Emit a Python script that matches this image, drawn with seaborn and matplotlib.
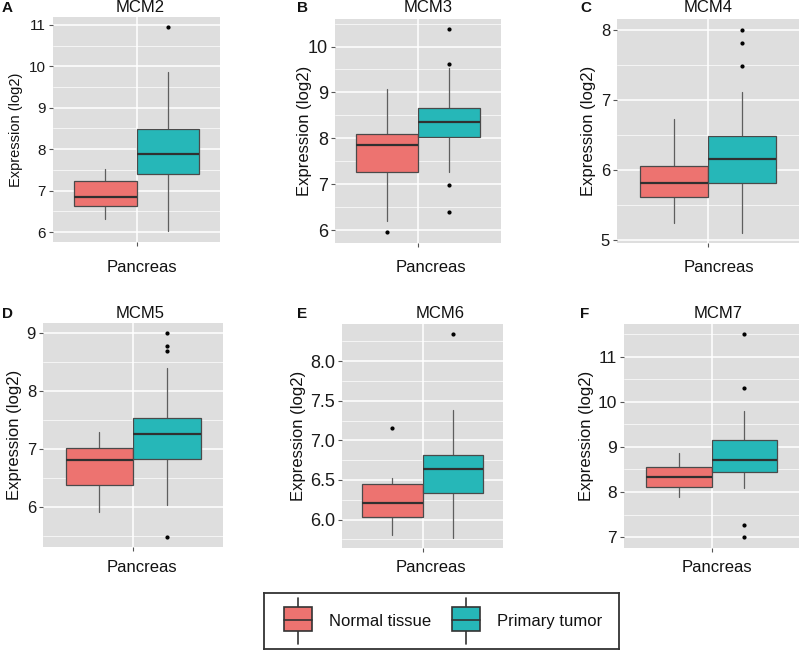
import matplotlib
matplotlib.use("Agg")
import matplotlib.pyplot as plt
from matplotlib.legend_handler import HandlerBase
from matplotlib.lines import Line2D
from matplotlib.patches import Rectangle, Patch
from matplotlib.ticker import MultipleLocator, FormatStrFormatter
import seaborn as sns

# ---- data ------------------------------------------------------------------
genes = ["MCM2", "MCM3", "MCM4", "MCM5", "MCM6", "MCM7"]
letters = ["A", "B", "C", "D", "E", "F"]
groups = ["Normal tissue", "Primary tumor"]
tissue = "Pancreas"

# five-number summaries: whisker low, q1, median, q3, whisker high
normal_stats = [
    [6.31, 6.63, 6.85, 7.23, 7.51],
    [6.20, 7.27, 7.86, 8.09, 9.07],
    [5.25, 5.61, 5.81, 6.06, 6.73],
    [5.92, 6.37, 6.81, 7.02, 7.29],
    [5.80, 6.03, 6.21, 6.45, 6.52],
    [7.89, 8.10, 8.34, 8.55, 8.87],
]
tumor_stats = [
    [6.02, 7.40, 7.89, 8.48, 9.87],
    [7.26, 8.02, 8.36, 8.66, 9.54],
    [5.10, 5.82, 6.16, 6.48, 7.11],
    [6.04, 6.83, 7.26, 7.53, 8.40],
    [5.77, 6.34, 6.64, 6.82, 7.38],
    [8.08, 8.44, 8.70, 9.15, 9.80],
]
normal_fliers = [[], [5.96], [], [], [7.16], []]
tumor_fliers = [
    [10.94],
    [10.38, 9.63, 6.99, 6.39],
    [8.00, 7.81, 7.48],
    [9.00, 8.78, 8.69, 5.48],
    [8.34],
    [11.50, 10.31, 7.27, 7.00],
]
y_limits = [(5.76, 11.19), (5.72, 10.60), (4.96, 8.15),
            (5.31, 9.17), (5.64, 8.47), (6.76, 11.72)]
y_steps = [1, 1, 1, 1, 0.5, 1]

# ---- layout (pixels in a 799x655 canvas) ------------------------------------
W, H = 799, 655
panel_px = [(53, 17, 220, 242), (335, 19, 501, 243), (617, 19, 799, 243),
            (43, 323, 223, 547), (342, 324, 503, 548), (624, 324, 799, 548)]
ylabel_x = [16, 305, 588, 15, 298, 587]
title_x = [140, 428, 708, 140, 440, 718]
letter_x = [2, 297, 580, 2, 297, 580]
row_title_y = [8, 8, 8, 314, 314, 314]
xlabel_x = [142, 431, 719, 142, 431, 717]
xlabel_y = [268, 268, 268, 568, 568, 568]
tick_fs = [11, 13, 12, 12, 13, 12.5]
ylab_fs = [10.5, 12, 12, 12, 12, 12]

sns.set_theme(style="darkgrid", rc={
    "axes.facecolor": "#DEDEDE",
    "grid.color": "white",
    "figure.facecolor": "white",
})
plt.rcParams["font.family"] = ["Liberation Sans", "DejaVu Sans"]

pal = ["#ED7370", "#26B7B8"]
EDGE = "#4a4a4a"
WHISK = "#5e5e5e"
MED = "#303030"


def fx(px):
    return px / W


def fy(py):
    return 1 - py / H


def make_stats(s, fl, label):
    lo, q1, med, q3, hi = s
    return {"whislo": lo, "q1": q1, "med": med, "q3": q3, "whishi": hi,
            "fliers": fl, "label": label}


fig = plt.figure(figsize=(W / 100, H / 100), dpi=100)

for i, gene in enumerate(genes):
    l, t, r, b = panel_px[i]
    ax = fig.add_axes([fx(l), fy(b), (r - l) / W, (b - t) / H])
    stats = [make_stats(normal_stats[i], normal_fliers[i], groups[0]),
             make_stats(tumor_stats[i], tumor_fliers[i], groups[1])]
    art = ax.bxp(stats, positions=[0.775, 1.225], widths=0.45,
                 patch_artist=True, showcaps=False, manage_ticks=False,
                 boxprops=dict(edgecolor=EDGE, linewidth=0.9),
                 whiskerprops=dict(color=WHISK, linewidth=0.9),
                 medianprops=dict(color=MED, linewidth=1.6),
                 flierprops=dict(marker="o", markersize=2.0, markerfacecolor="black",
                                 markeredgecolor="black", linestyle="none"))
    for patch, c in zip(art["boxes"], pal):
        patch.set_facecolor(c)
    for w in art["whiskers"]:
        w.set_zorder(1.5)

    ax.set_xlim(0.4, 1.6)
    ax.set_ylim(*y_limits[i])
    ax.set_xticks([1])
    ax.set_xticklabels([""])
    step = y_steps[i]
    ax.yaxis.set_major_locator(MultipleLocator(step))
    ax.yaxis.set_minor_locator(MultipleLocator(step / 2))
    if step < 1:
        ax.yaxis.set_major_formatter(FormatStrFormatter("%.1f"))
    ax.grid(which="major", axis="both", color="white", linewidth=1.1)
    ax.grid(which="minor", axis="y", color="white", linewidth=0.5)
    ax.grid(which="minor", axis="x", visible=False)
    ax.tick_params(axis="both", which="major", length=3, width=0.8,
                   color="#555555", pad=2, labelsize=tick_fs[i], labelcolor="#1a1a1a",
                   left=True, bottom=True)
    ax.tick_params(which="minor", left=False, bottom=False)
    for sp in ax.spines.values():
        sp.set_visible(False)

    ax.set_ylabel("Expression (log2)", fontsize=ylab_fs[i], color="#111111")
    ax.yaxis.set_label_coords(fx(ylabel_x[i]), fy((t + b) / 2), transform=fig.transFigure)
    ax.set_xlabel(tissue, fontsize=12, color="#111111")
    ax.xaxis.set_label_coords(fx(xlabel_x[i]), fy(xlabel_y[i]), transform=fig.transFigure)
    ax.xaxis.label.set_va("center")
    ax.yaxis.label.set_va("center")

    fig.text(fx(title_x[i]), fy(row_title_y[i]), gene, ha="center", va="center",
             fontsize=12, color="#111111")
    fig.text(fx(letter_x[i]), fy(row_title_y[i]), letters[i], ha="left", va="center",
             fontsize=11, fontweight="bold", color="#111111")


# ---- legend with box glyphs ---------------------------------------------------
class BoxHandler(HandlerBase):
    def create_artists(self, legend, orig, xdescent, ydescent, width, height,
                       fontsize, trans):
        x0, y0 = -xdescent, -ydescent
        cx = x0 + width / 2
        whisk = Line2D([cx, cx], [y0, y0 + height], color="#333333", lw=1.2,
                       transform=trans)
        rect = Rectangle((x0, y0 + 0.27 * height), width, 0.53 * height,
                         facecolor=orig.get_facecolor(), edgecolor="#333333",
                         lw=1.2, transform=trans)
        med = Line2D([x0, x0 + width], [y0 + 0.53 * height] * 2, color="#333333",
                     lw=1.2, transform=trans)
        return [whisk, rect, med]


lax = fig.add_axes([fx(264), fy(649), (619 - 264) / W, (649 - 593) / H])
lax.set_facecolor("white")
lax.set_xticks([])
lax.set_yticks([])
lax.grid(False)
for sp in lax.spines.values():
    sp.set_visible(True)
    sp.set_color("#333333")
    sp.set_linewidth(1.3)

handles = [Patch(facecolor=c) for c in pal]
leg = lax.legend(handles, groups, handler_map={Patch: BoxHandler()},
                 loc="center left", bbox_to_anchor=(20 / 355, 0.5), frameon=False,
                 ncol=2, fontsize=12, handlelength=1.7, handleheight=3.8,
                 handletextpad=1.0, columnspacing=1.25, borderpad=0, borderaxespad=0)
for txt in leg.get_texts():
    txt.set_color("#111111")

fig.savefig("out.png", dpi=100)
